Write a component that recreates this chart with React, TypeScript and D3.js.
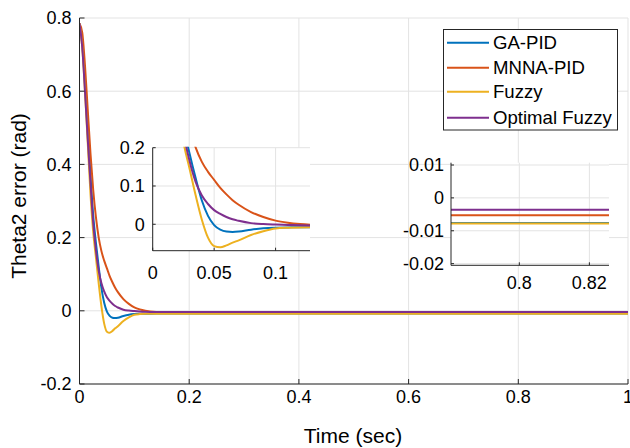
import React from "react";
import * as d3 from "d3";

const T = [0, 0.005, 0.01, 0.015, 0.02, 0.025, 0.03, 0.035, 0.04, 0.045, 0.05, 0.055, 0.06, 0.065, 0.07, 0.08, 0.09, 0.1, 0.11, 0.12, 0.14, 0.17, 0.2, 0.3, 0.5, 1.0];
const gaPid = [0.785, 0.73, 0.62, 0.49, 0.37, 0.26, 0.185, 0.12, 0.062, 0.022, -0.002, -0.014, -0.019, -0.02, -0.019, -0.014, -0.0105, -0.0088, -0.0081, -0.0078, -0.0077, -0.0076, -0.0076, -0.0076, -0.0076, -0.0076];
const mnnaPid = [0.785, 0.76, 0.67, 0.55, 0.43, 0.33, 0.255, 0.2, 0.163, 0.137, 0.116, 0.095, 0.078, 0.063, 0.051, 0.032, 0.019, 0.0095, 0.004, 0.0005, -0.003, -0.0047, -0.0052, -0.0053, -0.0053, -0.0053];
const fuzzy = [0.785, 0.72, 0.6, 0.46, 0.32, 0.215, 0.145, 0.075, 0.012, -0.035, -0.057, -0.06, -0.055, -0.048, -0.042, -0.028, -0.018, -0.011, -0.009, -0.0082, -0.0079, -0.0078, -0.0078, -0.0078, -0.0078, -0.0078];
const optFuzzy = [0.785, 0.72, 0.6, 0.47, 0.35, 0.24, 0.165, 0.11, 0.075, 0.053, 0.037, 0.027, 0.019, 0.013, 0.009, 0.003, 0.0005, -0.0008, -0.0018, -0.0025, -0.0032, -0.0035, -0.0036, -0.0036, -0.0036, -0.0036];

const seriesNames = ["GA-PID", "MNNA-PID", "Fuzzy", "Optimal Fuzzy"];
const seriesValues = [gaPid, mnnaPid, fuzzy, optFuzzy];
const colors = ["#0072BD", "#D95319", "#EDB120", "#7E2F8E"];

const mainXTicks = [0, 0.2, 0.4, 0.6, 0.8, 1];
const mainYTicks = [-0.2, 0, 0.2, 0.4, 0.6, 0.8];
const in1XTicks = [0, 0.05, 0.1];
const in1YTicks = [0, 0.1, 0.2];
const in2XTicks = [0.8, 0.82];
const in2YTicks = [-0.02, -0.01, 0, 0.01];

const FONT = "'Liberation Sans', Arial, Helvetica, sans-serif";
const GRID = "#e3e3e3";
const AX = "#262626";

type Panel = {
  id: string;
  x: d3.ScaleLinear<number, number>;
  y: d3.ScaleLinear<number, number>;
  xTicks: number[];
  yTicks: number[];
  tick: number;
  fs: number;
  xLabOff: number;
  yLabOff: number;
};

function fmt(v: number) {
  return String(+v.toFixed(4));
}

function PanelView({ p }: { p: Panel }) {
  const [x0, x1] = p.x.range();
  const [y0, y1] = p.y.range();
  const line = d3
    .line<number>()
    .x((_, i) => p.x(T[i]))
    .y((d) => p.y(d))
    .curve(d3.curveMonotoneX);
  return (
    <g>
      <rect x={x0} y={y1} width={x1 - x0} height={y0 - y1} fill="#fff" />
      <clipPath id={p.id}>
        <rect x={x0} y={y1 - 1} width={x1 - x0} height={y0 - y1 + 2} />
      </clipPath>
      {p.xTicks.map((t) => (
        <line key={"gx" + t} x1={p.x(t)} x2={p.x(t)} y1={y0} y2={y1} stroke={GRID} strokeWidth={1} />
      ))}
      {p.yTicks.map((t) => (
        <line key={"gy" + t} x1={x0} x2={x1} y1={p.y(t)} y2={p.y(t)} stroke={GRID} strokeWidth={1} />
      ))}
      <g clipPath={`url(#${p.id})`}>
        {seriesValues.map((vals, i) => (
          <path key={i} d={line(vals) || ""} fill="none" stroke={colors[i]} strokeWidth={2} />
        ))}
      </g>
      <line x1={x0} x2={x1} y1={y0} y2={y0} stroke={AX} strokeWidth={1} />
      <line x1={x0} x2={x0} y1={y0} y2={y1} stroke={AX} strokeWidth={1} />
      {p.xTicks.map((t) => (
        <g key={"tx" + t}>
          <line x1={p.x(t)} x2={p.x(t)} y1={y0} y2={y0 - p.tick} stroke={AX} />
          <text x={p.x(t)} y={y0 + p.xLabOff} textAnchor="middle" fontSize={p.fs} fontFamily={FONT} fill="#000">
            {fmt(t)}
          </text>
        </g>
      ))}
      {p.yTicks.map((t) => (
        <g key={"ty" + t}>
          <line x1={x0} x2={x0 + p.tick} y1={p.y(t)} y2={p.y(t)} stroke={AX} />
          <text x={x0 - p.yLabOff} y={p.y(t)} dy="0.35em" textAnchor="end" fontSize={p.fs} fontFamily={FONT} fill="#000">
            {fmt(t)}
          </text>
        </g>
      ))}
    </g>
  );
}

export default function App() {
  const main: Panel = {
    id: "clipMain",
    x: d3.scaleLinear().domain([0, 1]).range([79.5, 628]),
    y: d3.scaleLinear().domain([-0.2, 0.8]).range([384, 18]),
    xTicks: mainXTicks,
    yTicks: mainYTicks,
    tick: 5,
    fs: 18,
    xLabOff: 19,
    yLabOff: 8,
  };
  const in1: Panel = {
    id: "clipIn1",
    x: d3.scaleLinear().domain([0, 0.128]).range([152.7, 310]),
    y: d3.scaleLinear().domain([-0.069, 0.2]).range([250.7, 147.7]),
    xTicks: in1XTicks,
    yTicks: in1YTicks,
    tick: 3,
    fs: 18,
    xLabOff: 28,
    yLabOff: 8,
  };
  const in2: Panel = {
    id: "clipIn2",
    x: d3.scaleLinear().domain([0.7805, 0.8256]).range([451, 609]),
    y: d3.scaleLinear().domain([-0.0205, 0.0107]).range([265.3, 162.7]),
    xTicks: in2XTicks,
    yTicks: in2YTicks,
    tick: 3,
    fs: 18,
    xLabOff: 24,
    yLabOff: 7,
  };

  const legX = 443.5;
  const legY = 29.5;
  const legRows = [42.7, 67.7, 91.7, 117.7];

  return (
    <svg width={630} height={448} style={{ position: "absolute", left: 0, top: 0, background: "#fff" }}>
      <rect x={0} y={0} width={630} height={448} fill="#fff" />
      <PanelView p={main} />
      <PanelView p={in1} />
      <PanelView p={in2} />
      <text x={353} y={443} textAnchor="middle" fontSize={21} fontFamily={FONT} fill="#000">
        Time (sec)
      </text>
      <text transform="translate(26,196) rotate(-90)" textAnchor="middle" fontSize={21} fontFamily={FONT} fill="#000">
        Theta2 error (rad)
      </text>
      <g>
        <rect x={legX} y={legY} width={174} height={100.5} fill="#fff" stroke={AX} strokeWidth={1} />
        {seriesNames.map((n, i) => (
          <g key={n}>
            <line x1={447} x2={489} y1={legRows[i]} y2={legRows[i]} stroke={colors[i]} strokeWidth={2} />
            <text x={493} y={legRows[i]} dy="0.35em" fontSize={18.6} fontFamily={FONT} fill="#000">
              {n}
            </text>
          </g>
        ))}
      </g>
    </svg>
  );
}
